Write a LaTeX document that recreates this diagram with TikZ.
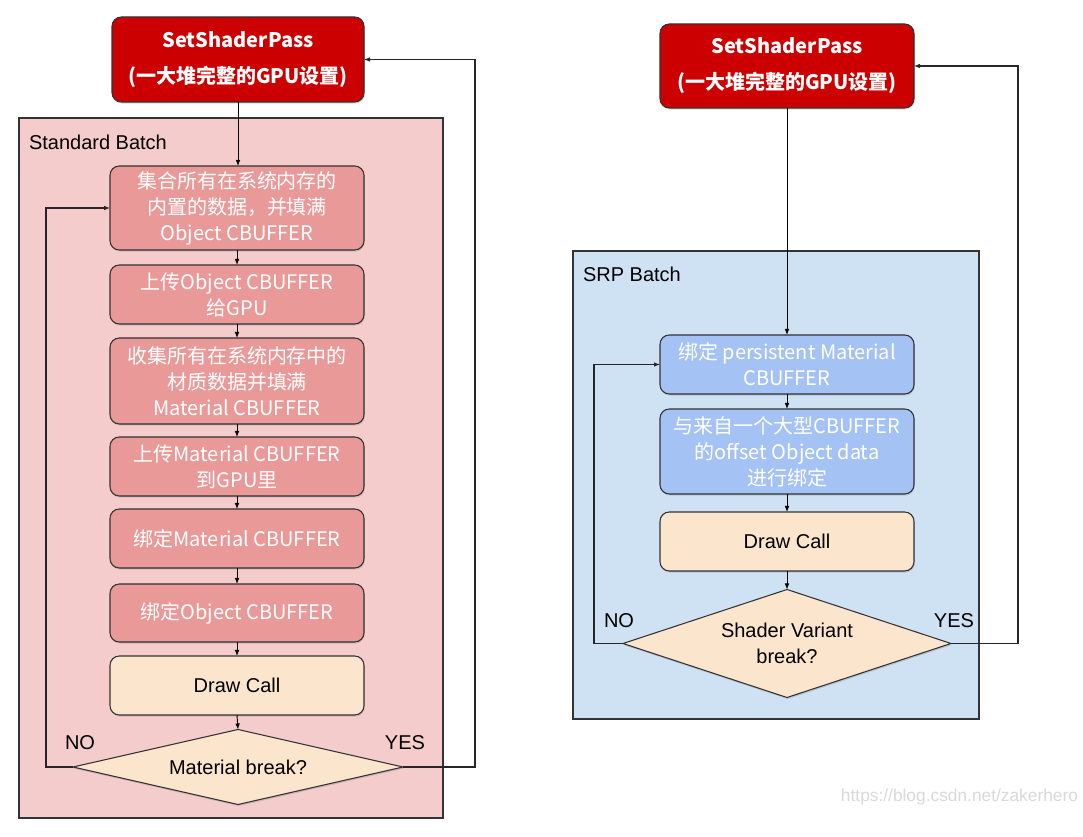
\documentclass[tikz,border=0pt]{standalone}
\usepackage{fontspec}
\setmainfont{Liberation Sans}
\newfontfamily\cjk{Noto Sans CJK SC}
\usetikzlibrary{shapes.geometric,shadows,arrows.meta}
\definecolor{titlered}{HTML}{CC0000}
\definecolor{stdfill}{HTML}{F4CCCC}
\definecolor{stdbox}{HTML}{EA9999}
\definecolor{callfill}{HTML}{FCE5CD}
\definecolor{srpfill}{HTML}{CFE2F3}
\definecolor{srpbox}{HTML}{A4C2F4}
\definecolor{edge}{HTML}{333333}
\begin{document}
\begin{tikzpicture}[x=0.75pt,y=-0.75pt,
  every node/.style={inner sep=0pt,outer sep=0pt},
  shadowed/.style={drop shadow={opacity=0.3,shadow xshift=0.6pt,shadow yshift=-1.2pt}},
  boxbase/.style={draw=edge,line width=0.8pt,rounded corners=7pt,minimum width=190.5pt,align=center,shadowed},
  titlebox/.style={boxbase,fill=titlered,text=white,font=\cjk\bfseries\fontsize{15}{27}\selectfont},
  stdstep/.style={boxbase,fill=stdbox,text=white,font=\cjk\fontsize{15}{19.5}\selectfont},
  srpstep/.style={boxbase,fill=srpbox,text=white,font=\cjk\fontsize{15}{19.5}\selectfont},
  callbox/.style={boxbase,fill=callfill,text=black,font=\fontsize{15}{19}\selectfont},
  decision/.style={diamond,draw=edge,line width=0.8pt,fill=callfill,align=center,font=\fontsize{15}{19}\selectfont,shadowed},
  container/.style={draw=edge,line width=0.8pt},
  lbl/.style={font=\fontsize{15}{18}\selectfont,text=black},
  conn/.style={draw=black,line width=0.7pt,-{Latex[length=4.5pt,width=3.5pt]}},
  loopline/.style={draw=black!85,line width=0.8pt,-{Latex[length=4.5pt,width=3.5pt]}}
]
\useasboundingbox[fill=white] (0,0) rectangle (1083,837);

% ---------- left: Standard Batch ----------
\path[container,fill=stdfill] (19,118) rectangle (443,818);
\node[lbl,anchor=west] (stdlabel) at (29,142) {Standard Batch};

\node[titlebox,minimum width=189pt,minimum height=63.75pt] (redL) at (238,59.5)
  {SetShaderPass\\(一大堆完整的GPU设置)};

\node[stdstep,minimum height=63pt] (l1) at (237,208) {集合所有在系统内存的\\内置的数据，并填满\\Object CBUFFER};
\node[stdstep,minimum height=44.25pt] (l2) at (237,294.5) {上传Object CBUFFER\\给GPU};
\node[stdstep,minimum height=64.5pt] (l3) at (237,381) {收集所有在系统内存中的\\材质数据并填满\\Material CBUFFER};
\node[stdstep,minimum height=44.25pt] (l4) at (237,466.5) {上传Material CBUFFER\\到GPU里};
\node[stdstep,minimum height=44.25pt] (l5) at (237,538.5) {绑定Material CBUFFER};
\node[stdstep,minimum height=43.5pt] (l6) at (237,613) {绑定Object CBUFFER};
\node[callbox,minimum height=44.25pt] (l7) at (237,685.5) {Draw Call};
\node[decision,aspect=4.4,minimum width=247.5pt,minimum height=56.25pt] (ldia) at (238,767) {Material break?};

\node[lbl] (lno) at (80,743) {NO};
\node[lbl] (lyes) at (405,743) {YES};

\draw[conn] (redL.south) -- (redL.south |- l1.north);
\draw[conn] (l1) -- (l2);
\draw[conn] (l2) -- (l3);
\draw[conn] (l3) -- (l4);
\draw[conn] (l4) -- (l5);
\draw[conn] (l5) -- (l6);
\draw[conn] (l6) -- (l7);
\draw[conn] (l7.south) -- (ldia.north);

\coordinate (lnoturn) at (46,767);
\coordinate (lyesturn) at (475,767);
\draw[loopline] (ldia.west) -- (lnoturn) |- (l1.west);
\draw[loopline] (ldia.east) -- (lyesturn) |- (redL.east);

% ---------- right: SRP Batch ----------
\path[container,fill=srpfill] (573,251) rectangle (979,719);
\node[lbl,anchor=west] (srplabel) at (583,274) {SRP Batch};

\node[titlebox,minimum height=63pt] (redR) at (787,66)
  {SetShaderPass\\(一大堆完整的GPU设置)};

\node[srpstep,minimum height=44.25pt] (r1) at (787,364.5) {绑定 persistent Material\\CBUFFER};
\node[srpstep,minimum height=63.75pt] (r2) at (787,451.5) {与来自一个大型CBUFFER\\的offset Object data\\进行绑定};
\node[callbox,minimum height=44.25pt] (r3) at (787,541.5) {Draw Call};
\node[decision,aspect=3.04,minimum width=246pt,minimum height=81pt] (rdia) at (787,643.5) {Shader Variant\\break?};

\node[lbl] (rno) at (619,621) {NO};
\node[lbl] (ryes) at (954,621) {YES};

\draw[conn] (redR.south) -- (r1.north);
\draw[conn] (r1) -- (r2);
\draw[conn] (r2) -- (r3);
\draw[conn] (r3.south) -- (rdia.north);

\coordinate (rnoturn) at (594,643.5);
\coordinate (ryesturn) at (1018,643.5);
\draw[loopline] (rdia.west) -- (rnoturn) |- (r1.west);
\draw[loopline] (rdia.east) -- (ryesturn) |- (redR.east);

% watermark
\node[anchor=east,font=\fontsize{13}{15}\selectfont,text=black!15] (wm) at (1078,797) {https://blog.csdn.net/zakerhero};
\end{tikzpicture}
\end{document}
